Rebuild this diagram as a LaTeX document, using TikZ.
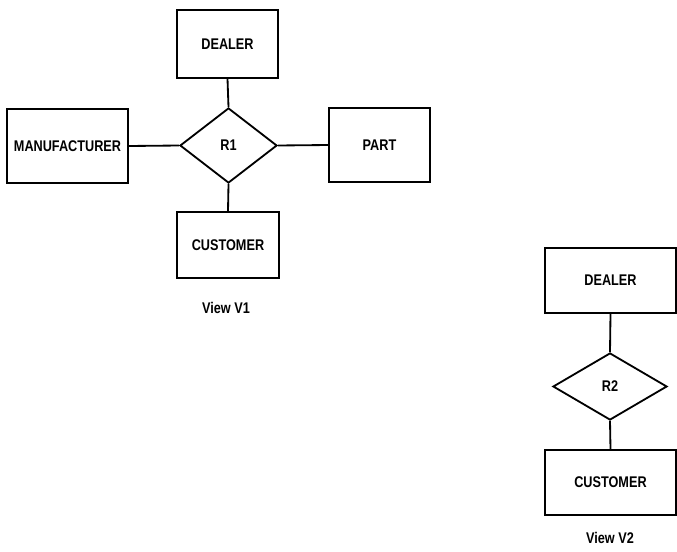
\documentclass[tikz,border=0pt]{standalone}
\usepackage{fontspec}
\newfontfamily\erfont[FakeStretch=0.82]{Liberation Sans}
\usetikzlibrary{shapes.geometric}
\tikzset{every picture/.style={line width=1.3pt}}
\tikzset{entity/.style={draw, rectangle, inner sep=0pt, font=\erfont\bfseries\fontsize{11}{13}\selectfont},
         relation/.style={draw, diamond, inner sep=0pt, font=\erfont\bfseries\fontsize{11}{13}\selectfont},
         caption/.style={font=\erfont\bfseries\fontsize{11}{13}\selectfont}}
\begin{document}
\begin{tikzpicture}[x=0.025cm, y=-0.025cm]
\useasboundingbox (0,0) rectangle (677,552);
% view V1
\node[entity, minimum width=2.525cm, minimum height=1.7cm] (d1) at (227.5,44) {DEALER};
\node[entity, minimum width=3.025cm, minimum height=1.85cm] (m1) at (67.5,146) {MANUFACTURER};
\node[relation, minimum width=2.425cm, minimum height=1.875cm] (r1) at (228.5,145.5) {R1};
\node[entity, minimum width=2.525cm, minimum height=1.85cm] (p1) at (379.5,145) {PART};
\node[entity, minimum width=2.55cm, minimum height=1.65cm] (c1) at (228,245) {CUSTOMER};
\node[caption] (v1) at (226,308) {View V1};
%
\foreach \Source/\Target in {%
        d1.south/r1.north,
        m1.east/r1.west,
        r1.east/p1.west,
        r1.south/c1.north%
    }
\draw (\Source) to (\Target);
%
% view V2
\node[entity, minimum width=3.275cm, minimum height=1.625cm] (d2) at (610.5,280.5) {DEALER};
\node[relation, minimum width=2.85cm, minimum height=1.675cm] (r2) at (610,386.5) {R2};
\node[entity, minimum width=3.275cm, minimum height=1.625cm] (c2) at (610.5,482.5) {CUSTOMER};
\node[caption] (v2) at (610,538) {View V2};
%
\foreach \Source/\Target in {%
        d2.south/r2.north,
        r2.south/c2.north%
    }
\draw (\Source) to (\Target);
\end{tikzpicture}
\end{document}
